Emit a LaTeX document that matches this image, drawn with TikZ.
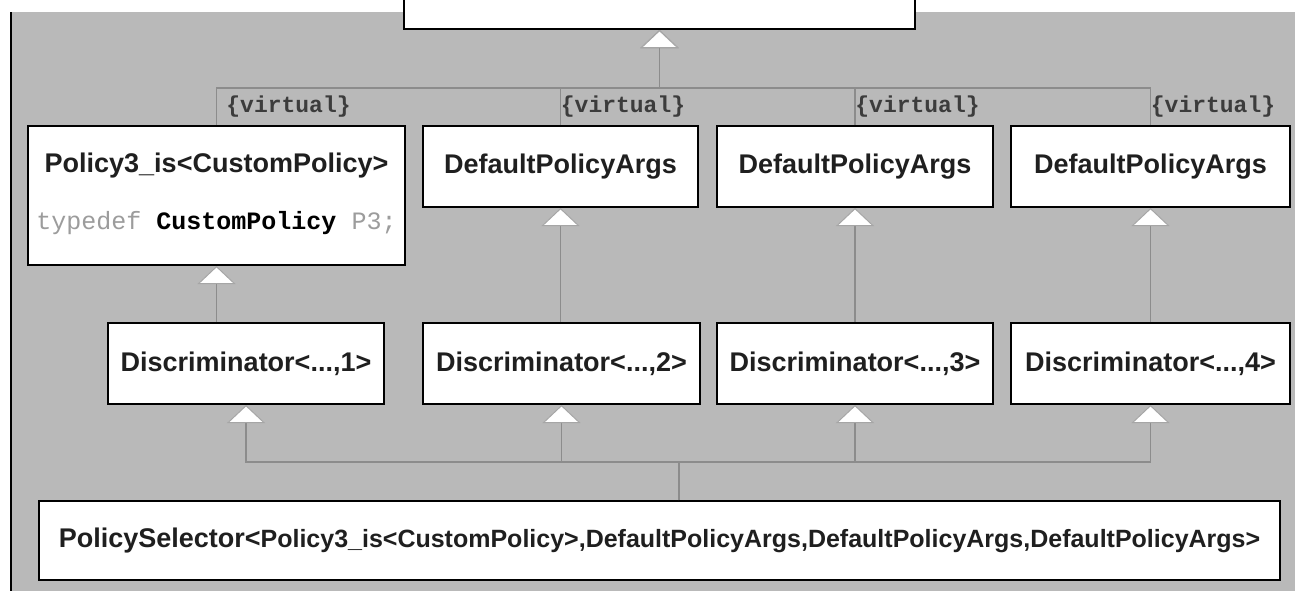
\documentclass[tikz,border=0pt]{standalone}
\usepackage{fontspec}
\setmainfont{Liberation Sans}
\newfontfamily\codefont{Liberation Mono}
\usetikzlibrary{arrows.meta}

\definecolor{panel}{HTML}{B9B9B9}
\definecolor{wiregray}{HTML}{8C8C8C}
\definecolor{tipgray}{HTML}{A6A6A6}
\definecolor{keyw}{HTML}{9C9C9C}
\definecolor{stereo}{HTML}{3C3C3C}

\tikzset{
  cls/.style={draw=black, fill=white, line width=1pt, inner sep=0pt,
    font=\bfseries\fontsize{13.5}{16}\selectfont, text=black!88},
  wire/.style={draw=wiregray, line width=0.75pt},
  gen/.style={wire, -{Triangle[width=19pt,length=9pt,color=tipgray,fill=white,line width=0.5pt]}},
  virt/.style={anchor=west, inner sep=0pt, text=stereo,
    font=\codefont\bfseries\fontsize{11.5}{14}\selectfont},
}

\begin{document}
\begin{tikzpicture}[x=0.5pt,y=-0.5pt]
\useasboundingbox (0,0) rectangle (1295,591);
\clip (0,0) rectangle (1295,591);

% panel
\fill[panel] (10,12) rectangle (1295,591);
\draw[line width=1pt] (10.5,12) -- (10.5,591);

% base class (cut off at the top)
\node[cls, minimum width=255.5pt, minimum height=24.5pt] (top) at (659.5,4.5) {};

% policy row
\node[cls, minimum width=188.5pt, minimum height=69.5pt] (p1) at (216.5,195.5) {};
\node[font=\bfseries\fontsize{13.5}{16}\selectfont, text=black!88] (p1name) at (216.5,166) {Policy3\_is<CustomPolicy>};
\node[font=\codefont\fontsize{12.5}{15}\selectfont, text=keyw] (p1def) at (216.5,223)
  {typedef {\bfseries\color{black}CustomPolicy} P3;};
\node[cls, minimum width=137.5pt, minimum height=40.5pt] (p2) at (560.5,166.5) {DefaultPolicyArgs};
\node[cls, minimum width=138pt, minimum height=40.5pt] (p3) at (855,166.5) {DefaultPolicyArgs};
\node[cls, minimum width=139.5pt, minimum height=40.5pt] (p4) at (1150.5,166.5) {DefaultPolicyArgs};

% discriminator row
\node[cls, minimum width=138pt, minimum height=40.5pt] (d1) at (246,363.5) {Discriminator<...,1>};
\node[cls, minimum width=138.5pt, minimum height=40.5pt] (d2) at (561.5,363.5) {Discriminator<...,2>};
\node[cls, minimum width=138pt, minimum height=40.5pt] (d3) at (855,363.5) {Discriminator<...,3>};
\node[cls, minimum width=139.5pt, minimum height=40.5pt] (d4) at (1150.5,363.5) {Discriminator<...,4>};

% selector
\node[cls, minimum width=620.5pt, minimum height=39.5pt] (sel) at (659.5,540.5)
  {PolicySelector<{\fontsize{12.5}{15}\selectfont Policy3\_is<CustomPolicy>,DefaultPolicyArgs,DefaultPolicyArgs,DefaultPolicyArgs>}};

\coordinate (base) at (659.5,88);
\coordinate (derived) at (679,462);
\coordinate (vrow) at (0,107);

% virtual inheritance
\foreach \i in {1,...,4}
  \draw[gen] (p\i.north) |- (base) -- (top.south);
\node[virt] (v1) at (226,107) {\{virtual\}};
\node[virt] (v2) at (p2.north |- vrow) {\{virtual\}};
\node[virt] (v3) at (p3.north |- vrow) {\{virtual\}};
\node[virt] (v4) at (p4.north |- vrow) {\{virtual\}};

\foreach \i in {1,...,4}
  \draw[gen] (p\i.south |- d\i.north) -- (p\i.south);

\foreach \i in {1,...,4}
  \draw[gen] (sel.north -| derived) -- (derived) -| (d\i.south);
\end{tikzpicture}
\end{document}
